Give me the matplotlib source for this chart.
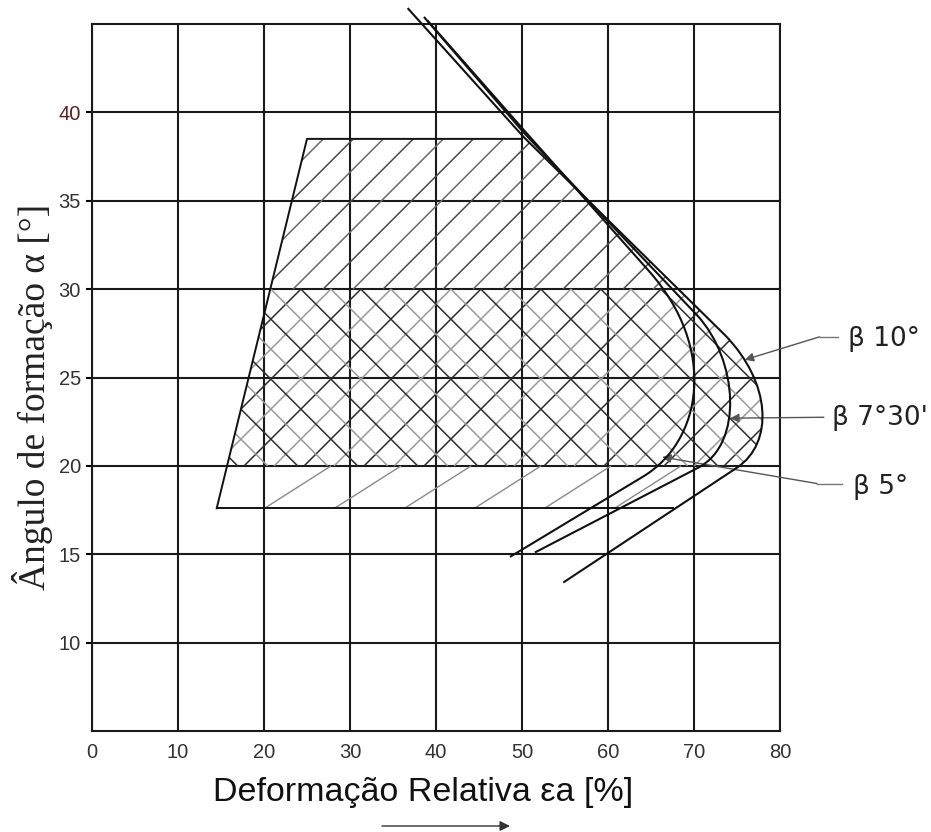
import numpy as np
import matplotlib
matplotlib.use('Agg')
import matplotlib.pyplot as plt
from matplotlib.path import Path
from matplotlib.patches import PathPatch
from matplotlib.collections import LineCollection

# axes
x_ticks = [0, 10, 20, 30, 40, 50, 60, 70, 80]
y_ticks = [10, 15, 20, 25, 30, 35, 40]
x_lim = (0, 80)
y_lim = (5, 45)

# outline of the working region
region_left_bottom = (14.5, 17.6)
region_left_top = (25.0, 38.5)
region_top_right = (50.0, 38.5)
region_bottom_right = (67.6, 17.6)

# hatch bands (alpha limits)
band_top = (30.0, 38.5)
band_mid = (20.0, 30.0)
band_low = (17.6, 20.0)

# beta curves: start, crossing near 50%, nose start, ctrl 1, ctrl 2, nose end, end
curve_b10 = [(36.7, 45.9), (50.2, 38.6), (73.6, 27.4), (79.0, 24.7), (79.3, 21.3), (75.0, 19.9), (54.8, 13.4)]
curve_b75 = [(38.6, 45.4), (50.3, 38.8), (70.4, 28.5), (75.1, 26.0), (75.8, 21.25), (70.5, 19.9), (51.5, 15.1)]
curve_b5 = [(39.0, 45.2), (50.4, 38.9), (64.8, 31.0), (72.8, 26.6), (70.9, 21.4), (64.1, 19.4), (48.6, 14.85)]
curves = [curve_b10, curve_b75, curve_b5]

# labels with leaders
beta_labels = ['β 10°', "β 7°30'", 'β 5°']
label_xy = [(87.9, 27.2), (86.0, 22.7), (88.5, 18.8)]
leader_start = [(86.8, 27.3), (85.1, 22.75), (87.2, 19.0)]
leader_elbow = [(84.6, 27.3), (85.1, 22.75), (84.3, 19.0)]
arrow_tip = [(75.9, 26.0), (74.2, 22.7), (66.3, 20.5)]

curve_codes = [Path.MOVETO, Path.LINETO, Path.LINETO, Path.CURVE4, Path.CURVE4, Path.CURVE4, Path.LINETO]

fig = plt.figure(figsize=(9.31, 8.32), dpi=100)
ax = fig.add_axes([92/931, 1 - 731/832, 688/931, 707/832])
ax.set_xlim(*x_lim)
ax.set_ylim(*y_lim)

# pixel scale so hatch lines come out at the right angle / spacing
pos = ax.get_position()
px_x = pos.width * fig.get_figwidth() * fig.dpi / (x_lim[1] - x_lim[0])
px_y = pos.height * fig.get_figheight() * fig.dpi / (y_lim[1] - y_lim[0])
s45 = px_x / px_y          # data slope of a 45 deg line
step = 30 / px_x           # 30 px between hatch lines

# clip region: outline + outer (beta 10) curve
clip_verts = [region_left_bottom, region_left_top, (region_left_top[0], curve_b10[0][1])] + curve_b10 \
    + [(region_left_bottom[0], curve_b10[-1][1]), region_left_bottom]
clip_codes = [Path.MOVETO, Path.LINETO, Path.LINETO] + [Path.LINETO] + curve_codes[1:] \
    + [Path.LINETO, Path.CLOSEPOLY]
clip_patch = PathPatch(Path(clip_verts, clip_codes), transform=ax.transData,
                       facecolor='none', edgecolor='none')
ax.add_patch(clip_patch)

def hatch(band, x_ref, dx, slope, colors, lw=1.1, x_min=-40):
	y0, y1 = band
	h = (y1 - y0) / abs(slope)
	segs = []
	cols = []
	start = x_ref - np.floor((x_ref - x_min) / dx) * dx
	for i, xr in enumerate(np.arange(start, 100, dx)):
		if slope > 0:
			segs.append([(xr - h, y0), (xr, y1)])
		else:
			segs.append([(xr, y1), (xr + h, y0)])
		cols.append(colors[i % len(colors)])
	lc = LineCollection(segs, colors=cols, linewidths=lw, zorder=2)
	ax.add_collection(lc)
	lc.set_clip_path(clip_patch)

# top band: single diagonal hatch
hatch(band_top, 26.9, step, s45, ['#4a4a4a', '#6a6a6a'])
# middle band: cross hatch, dark and light alternating
hatch(band_mid, 20.8, step, s45, ['#2e2e2e', '#9a9a9a'])
hatch(band_mid, 20.8, step, -s45, ['#2e2e2e', '#9a9a9a'])
# bottom band: sparse shallow hatch, first foot at 20.1
hatch(band_low, 20.1 + 7.7, 8.14, 0.31, ['#8a8a8a'], lw=1.0, x_min=27.8)

# region outline
ax.plot([region_left_bottom[0], region_left_top[0], region_top_right[0]],
        [region_left_bottom[1], region_left_top[1], region_top_right[1]],
        color='#111111', lw=1.4, zorder=3)
ax.plot([region_left_bottom[0], region_bottom_right[0]],
        [region_left_bottom[1], region_bottom_right[1]],
        color='#111111', lw=1.4, zorder=3)

# beta curves
for c in curves:
	p = PathPatch(Path(c, curve_codes), transform=ax.transData, fill=False,
	              edgecolor='#111111', lw=1.5, zorder=4, clip_on=False)
	ax.add_patch(p)

# labels and leaders
for lab, txy, ls, le, tip in zip(beta_labels, label_xy, leader_start, leader_elbow, arrow_tip):
	ax.text(txy[0], txy[1], lab, fontsize=19, family='DejaVu Sans', color='#222222',
	        ha='left', va='center', clip_on=False)
	ax.plot([ls[0], le[0]], [ls[1], le[1]], color='#777777', lw=1.0, clip_on=False)
	ax.annotate('', xy=tip, xytext=le, annotation_clip=False,
	            arrowprops=dict(arrowstyle='-|>', color='#555555', lw=1.0,
	                            mutation_scale=13, shrinkA=0, shrinkB=0))

# grid and frame
ax.set_xticks(x_ticks)
ax.set_yticks(y_ticks)
ax.grid(True, color='#1a1a1a', lw=1.5)
for sp in ax.spines.values():
	sp.set_linewidth(1.5)
	sp.set_color('#1a1a1a')
ax.tick_params(axis='x', length=0, pad=9, labelsize=14.5, labelcolor='#333333')
ax.tick_params(axis='y', length=4, width=1.5, pad=4, labelsize=14.5, labelcolor='#333333')
for lab in ax.get_xticklabels() + ax.get_yticklabels():
	lab.set_family('Liberation Sans')
ax.get_yticklabels()[-1].set_color('#5a2222')

fig.text(423/931, 1 - 793/832, 'Deformação Relativa εa [%]', family='Liberation Sans',
         fontsize=24.5, color='#111111', ha='center', va='center')
fig.text(33/931, 1 - 397/832, 'Ângulo de formação α [°]', family='Liberation Serif',
         fontsize=27, color='#222222', ha='center', va='center', rotation=90)

# arrow under the x label
ax.annotate('', xy=(510/931, 1 - 826/832), xytext=(382/931, 1 - 826/832),
            xycoords='figure fraction', textcoords='figure fraction', annotation_clip=False,
            arrowprops=dict(arrowstyle='-|>', color='#333333', lw=1.0, mutation_scale=15,
                            shrinkA=0, shrinkB=0))

fig.savefig('out.png', dpi=100)
